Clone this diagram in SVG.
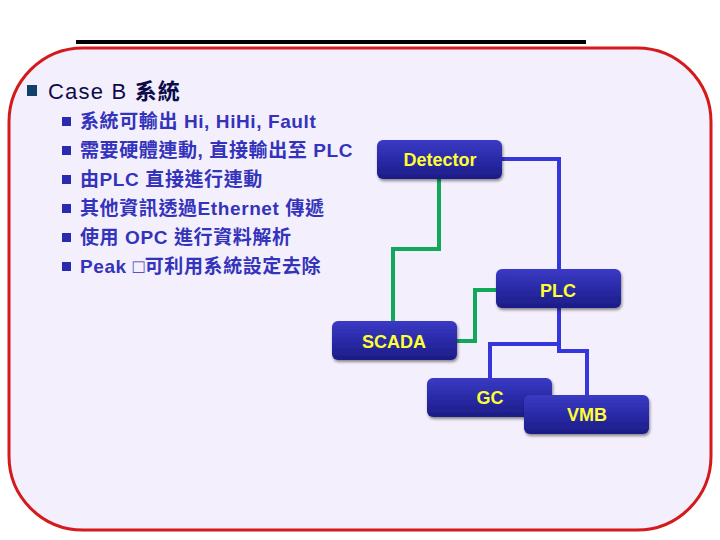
<svg xmlns="http://www.w3.org/2000/svg" width="720" height="540" viewBox="0 0 720 540">
<defs>
<linearGradient id="ng" x1="0" y1="0" x2="0" y2="1">
<stop offset="0" stop-color="#3a3ac4"/>
<stop offset="0.5" stop-color="#2a2aa8"/>
<stop offset="1" stop-color="#1c1c86"/>
</linearGradient>
<filter id="sh" x="-10%" y="-20%" width="125%" height="150%">
<feGaussianBlur in="SourceAlpha" stdDeviation="1.5"/>
<feOffset dx="1" dy="2" result="o"/>
<feComponentTransfer><feFuncA type="linear" slope="0.45"/></feComponentTransfer>
<feMerge><feMergeNode/><feMergeNode in="SourceGraphic"/></feMerge>
</filter>
</defs>
<style>
.node rect{fill:url(#ng);filter:url(#sh)}
.node text{fill:#ffff33;font-family:"Liberation Sans",Arial,sans-serif;font-weight:bold;font-size:18px;text-anchor:middle}
.blue{fill:none;stroke:#3636dd;stroke-width:4}
.green{fill:none;stroke:#11a85a;stroke-width:4}
.sub{fill:#3333bb;font-family:"Liberation Sans","Noto Sans CJK TC",sans-serif;font-weight:bold;font-size:19px;letter-spacing:0.6px}
.sb{fill:#2a2ab0}
</style>
<rect width="720" height="540" fill="#ffffff"/>
<line x1="76" y1="42" x2="586" y2="42" stroke="#000" stroke-width="4"/>
<rect x="9" y="48" width="702" height="482" rx="74" ry="74" fill="#f4effc" stroke="#d41a1a" stroke-width="3"/>
<g id="text">
<rect x="27" y="85" width="10" height="11" fill="#13406a"/>
<text x="48" y="99" font-family="Liberation Sans,'Noto Sans CJK TC',sans-serif" font-size="22" letter-spacing="1.2" fill="#0c0c4a">Case B <tspan font-weight="bold">系統</tspan></text>
<rect class="sb" x="62" y="117" width="9" height="9"/>
<text class="sub" x="80" y="128">系統可輸出 Hi, HiHi, Fault</text>
<rect class="sb" x="62" y="146" width="9" height="9"/>
<text class="sub" x="80" y="157">需要硬體連動, 直接輸出至 PLC</text>
<rect class="sb" x="62" y="175" width="9" height="9"/>
<text class="sub" x="80" y="186">由PLC 直接進行連動</text>
<rect class="sb" x="62" y="204" width="9" height="9"/>
<text class="sub" x="80" y="215">其他資訊透過Ethernet 傳遞</text>
<rect class="sb" x="62" y="233" width="9" height="9"/>
<text class="sub" x="80" y="244">使用 OPC 進行資料解析</text>
<rect class="sb" x="62" y="262" width="9" height="9"/>
<text class="sub" x="80" y="273">Peak □可利用系統設定去除</text>
</g>
<g id="connectors">
<polyline class="blue" points="501,159 559,159 559,269"/>
<polyline class="blue" points="559,308 559,351 587,351 587,395"/>
<polyline class="blue" points="559,344 490,344 490,378"/>
<polyline class="green" points="439,178 439,249 393,249 393,321"/>
<polyline class="green" points="496,290 475,290 475,341 457,341"/>
</g>
<g id="detector" class="node"><rect x="377" y="140" width="125" height="39" rx="6"/><text x="440" y="166">Detector</text></g>
<g id="plc" class="node"><rect x="496" y="269" width="125" height="39" rx="6"/><text x="558" y="297">PLC</text></g>
<g id="scada" class="node"><rect x="332" y="321" width="125" height="39" rx="6"/><text x="394" y="348">SCADA</text></g>
<g id="gc" class="node"><rect x="427" y="378" width="125" height="39" rx="6"/><text x="490" y="404">GC</text></g>
<g id="vmb" class="node"><rect x="524" y="395" width="125" height="39" rx="6"/><text x="587" y="421">VMB</text></g>
</svg>
